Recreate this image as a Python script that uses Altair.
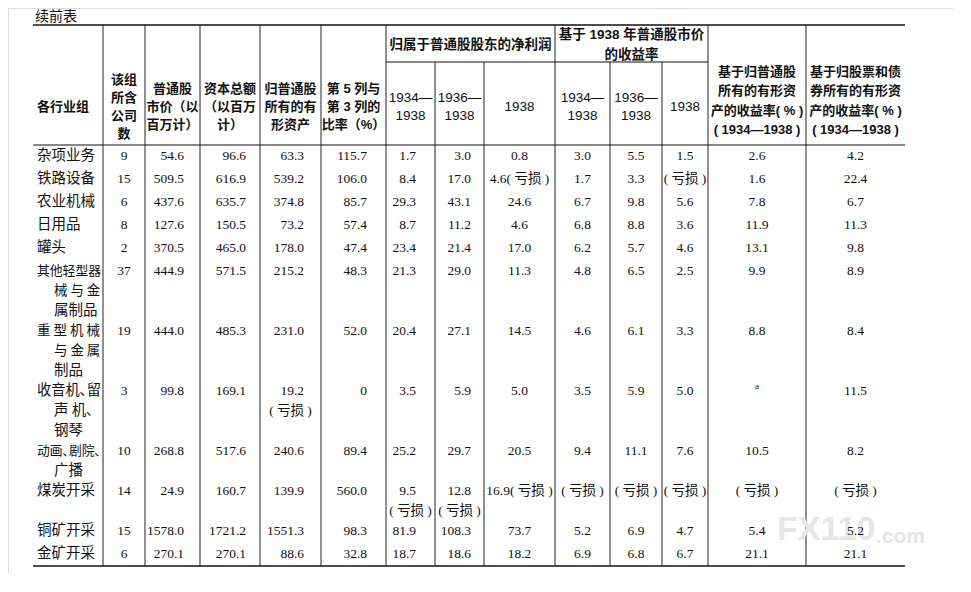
import altair as alt
import pandas as pd

LOSS = "( 亏损 )"

title = "续前表"
group_profit = ["归属于普通股股东的净利润"]
group_yield = ["基于 1938 年普通股市价", "的收益率"]
col_heads = [
    ["各行业组"],
    ["该组", "所含", "公司", "数"],
    ["普通股", "市价（以", "百万计）"],
    ["资本总额", "（以百万", "计）"],
    ["归普通股", "所有的有", "形资产"],
    ["第 5 列与", "第 3 列的", "比率（%）"],
    ["1934—", "1938"],
    ["1936—", "1938"],
    ["1938"],
    ["1934—", "1938"],
    ["1936—", "1938"],
    ["1938"],
    ["基于归普通股", "所有的有形资", "产的收益率( % )", "( 1934—1938 )"],
    ["基于归股票和债", "券所有的有形资", "产的收益率( % )", "( 1934—1938 )"],
]

names = [
    ["杂项业务"], ["铁路设备"], ["农业机械"], ["日用品"], ["罐头"],
    ["其他轻型器", "械 与 金", "属制品"],
    ["重 型 机 械", "与 金 属", "制品"],
    ["收音机､留", "声  机､", "钢琴"],
    ["动画､剧院､", "广播"],
    ["煤炭开采"], ["铜矿开采"], ["金矿开采"],
]
counts = ["9", "15", "6", "8", "2", "37", "19", "3", "10", "14", "15", "6"]
market = ["54.6", "509.5", "437.6", "127.6", "370.5", "444.9", "444.0", "99.8", "268.8", "24.9", "1578.0", "270.1"]
capital = ["96.6", "616.9", "635.7", "150.5", "465.0", "571.5", "485.3", "169.1", "517.6", "160.7", "1721.2", "270.1"]
tangible = ["63.3", "539.2", "374.8", "73.2", "178.0", "215.2", "231.0", "19.2|" + LOSS, "240.6", "139.9", "1551.3", "88.6"]
ratio = ["115.7", "106.0", "85.7", "57.4", "47.4", "48.3", "52.0", "0", "89.4", "560.0", "98.3", "32.8"]
np_3438 = ["1.7", "8.4", "29.3", "8.7", "23.4", "21.3", "20.4", "3.5", "25.2", "9.5|" + LOSS, "81.9", "18.7"]
np_3638 = ["3.0", "17.0", "43.1", "11.2", "21.4", "29.0", "27.1", "5.9", "29.7", "12.8|" + LOSS, "108.3", "18.6"]
np_38 = ["0.8", "4.6" + LOSS, "24.6", "4.6", "17.0", "11.3", "14.5", "5.0", "20.5", "16.9" + LOSS, "73.7", "18.2"]
y_3438 = ["3.0", "1.7", "6.7", "6.8", "6.2", "4.8", "4.6", "3.5", "9.4", LOSS, "5.2", "6.9"]
y_3638 = ["5.5", "3.3", "9.8", "8.8", "5.7", "6.5", "6.1", "5.9", "11.1", LOSS, "6.9", "6.8"]
y_38 = ["1.5", LOSS, "5.6", "3.6", "4.6", "2.5", "3.3", "5.0", "7.6", LOSS, "4.7", "6.7"]
r_common = ["2.6", "1.6", "7.8", "11.9", "13.1", "9.9", "8.8", "a", "10.5", LOSS, "5.4", "21.1"]
r_all = ["4.2", "22.4", "6.7", "11.3", "9.8", "8.9", "8.4", "11.5", "8.2", LOSS, "5.2", "21.1"]
watermark = ["FX110", ".com"]

# ---------------- layout (pixel positions in the page) ----------------
edges = [33, 103, 145, 200, 260, 321, 386, 435, 484, 555, 610, 662, 708, 806, 905]
centers = [(edges[i] + edges[i + 1]) / 2 for i in range(len(edges) - 1)]
TOP, GROUP, HEAD, BOTTOM = 25, 62, 145, 566
W, H = 945, 566

X = alt.X("x:Q", scale=alt.Scale(domain=[8, 8 + W], nice=False, zero=False), axis=None)
Y = alt.Y("y:Q", scale=alt.Scale(domain=[8, 8 + H], nice=False, zero=False, reverse=True), axis=None)

SERIF = "Liberation Serif, Noto Sans CJK SC"
SANS = "Noto Sans CJK SC"
HSANS = "Liberation Sans, Noto Sans CJK SC"


def tlayer(rows, align="center", font=SANS, size=13, weight="normal", color="#111", baseline="middle"):
    df = pd.DataFrame(rows, columns=["x", "y", "t"])
    return alt.Chart(df).mark_text(
        align=align, baseline=baseline, font=font, fontSize=size, fontWeight=weight, color=color
    ).encode(x=X, y=Y, text="t:N")


layers = []

# rules
hrules = pd.DataFrame(
    [[edges[0], edges[-1], TOP, 1.6], [edges[0], edges[-1], HEAD, 1.1],
     [edges[6], edges[12], GROUP, 1.1], [edges[0], edges[-1], BOTTOM, 1.6]],
    columns=["x", "x2", "y", "w"])
layers.append(alt.Chart(hrules).mark_rule(color="#111").encode(
    x=X, x2="x2:Q", y=Y, strokeWidth=alt.StrokeWidth("w:Q", scale=None)))

full_v = [1, 2, 3, 4, 5, 6, 9, 12, 13]
part_v = [7, 8, 10, 11]
vrules = pd.DataFrame(
    [[edges[i], TOP, BOTTOM] for i in full_v] + [[edges[i], GROUP, BOTTOM] for i in part_v],
    columns=["x", "y", "y2"])
layers.append(alt.Chart(vrules).mark_rule(color="#222", strokeWidth=1).encode(x=X, y=Y, y2="y2:Q"))

# watermark (beneath values)
layers.append(tlayer([[777, 530, watermark[0]]], align="left", font="Liberation Sans", size=34,
                     weight="bold", color="#e6e6e6"))
layers.append(tlayer([[876, 537, watermark[1]]], align="left", font="Liberation Sans", size=21,
                     weight="bold", color="#e4e4e4"))

# title
layers.append(tlayer([[35, 17, title]], align="left", size=14))

# group headers
layers.append(tlayer([[(edges[6] + edges[9]) / 2, 45, group_profit[0]]], font=HSANS, size=13.5, weight="bold"))
layers.append(tlayer([[(edges[9] + edges[12]) / 2, 35 + 20 * k, s] for k, s in enumerate(group_yield)],
                     font=HSANS, size=13.5, weight="bold"))

# column headers
hdr_bold, hdr_num = [], []
for i, lines in enumerate(col_heads):
    n = len(lines)
    pitch = 19.3 if i >= 12 else 18.3
    cy = 101 if i >= 12 else 107
    for k, s in enumerate(lines):
        yy = cy + (k - (n - 1) / 2) * pitch
        if i == 0:
            continue
        if s[0].isdigit():
            hdr_num.append([centers[i], yy, s])
        else:
            hdr_bold.append([centers[i], yy, s])
layers.append(tlayer([[37, 107, col_heads[0][0]]], align="left", font=HSANS, size=13, weight="bold"))
layers.append(tlayer(hdr_bold, font=HSANS, size=13, weight="bold"))
layers.append(tlayer(hdr_num, font="Liberation Sans", size=13.5))

# body rows
cols = [counts, market, capital, tangible, ratio, np_3438, np_3638, np_38,
        y_3438, y_3638, y_38, r_common, r_all]
right_anchor = {2: 184, 3: 246, 4: 304, 5: 367, 6: 416, 7: 471}

row_y = []
yy = 156
for r in range(len(names)):
    n = max([len(names[r])] + [len(c[r].split("|")) for c in cols])
    row_y.append(yy)
    yy += 23 if n == 1 else 20 * n


def units(s):
    return sum(0.25 if ch == " " else (0.5 if ch == "､" else 1) for ch in s)


name_rows = []
for r, lines in enumerate(names):
    for k, s in enumerate(lines):
        x0 = 37 if k == 0 else 54
        fs = min(14.5, (101 - x0) / units(s))
        name_rows.append([x0, row_y[r] + 20 * k, s, fs])
ndf = pd.DataFrame(name_rows, columns=["x", "y", "t", "fs"])
layers.append(alt.Chart(ndf).mark_text(align="left", baseline="middle", font=SANS, color="#111").encode(
    x=X, y=Y, text="t:N", size=alt.Size("fs:Q", scale=None)))

right_rows, center_rows, sup_rows = [], [], []
for ci, col in enumerate(cols):
    i = ci + 1
    for r, v in enumerate(col):
        parts = v.split("|")
        for k, s in enumerate(parts):
            y0 = row_y[r] + 20 * k
            if s == "a":
                sup_rows.append([centers[i], y0 - 5, s])
            elif i in right_anchor and k == 0:
                right_rows.append([right_anchor[i], y0, s])
            else:
                center_rows.append([centers[i], y0, s])
layers.append(tlayer(right_rows, align="right", font=SERIF, size=13.5))
layers.append(tlayer(center_rows, align="center", font=SERIF, size=13.5))
layers.append(tlayer(sup_rows, align="center", font=SERIF, size=9))

chart = alt.layer(*layers).properties(
    width=W, height=H, padding=0, autosize=alt.AutoSizeParams(type="none")
).configure_view(strokeWidth=0, stroke="transparent").configure(background="transparent")

chart.save("out.html", embed_options={"renderer": "svg", "actions": False})
